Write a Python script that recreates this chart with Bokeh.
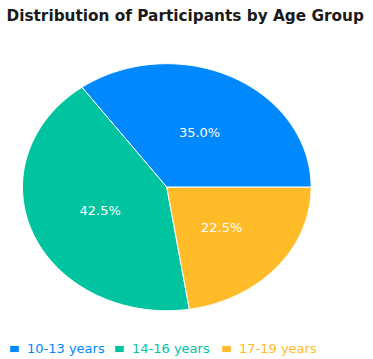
import numpy as np
from bokeh.plotting import figure
from bokeh.models import ColumnDataSource, Range1d, Label, Legend, LegendItem
from bokeh.embed import file_html
from bokeh.resources import INLINE

# ---- data ----
categories = ["10-13 years", "14-16 years", "17-19 years"]
values = [35.0, 42.5, 22.5]
colors = ["#0088FE", "#00C49F", "#FFBB28"]
title_text = "Distribution of Participants by Age Group"

# ---- layout constants (pixels) ----
W, H = 373, 359
CX, CY = 166.3, 186.7      # pie centre inside the figure (from top-left)
RX, RY = 144.3, 123.5      # horizontal / vertical pixel radius

vals = np.array(values, dtype=float)
frac = vals / vals.sum()
ends = np.cumsum(frac) * 2 * np.pi
starts = ends - frac * 2 * np.pi

xs, ys, lx, ly, labels = [], [], [], [], []
for s, e, f in zip(starts, ends, frac):
    t = np.linspace(s, e, 160)
    xs.append(np.concatenate([[0.0], np.cos(t), [0.0]]))
    ys.append(np.concatenate([[0.0], np.sin(t), [0.0]]))
    m = (s + e) / 2
    lx.append(0.5 * np.cos(m))
    ly.append(0.5 * np.sin(m))
    labels.append(f"{f*100:.1f}%")

src = ColumnDataSource(dict(xs=xs, ys=ys, color=colors, name=categories))
lsrc = ColumnDataSource(dict(x=lx, y=ly, text=labels))

p = figure(width=W, height=H, output_backend="svg", toolbar_location=None,
           x_range=Range1d(-CX / RX, (W - CX) / RX),
           y_range=Range1d(-(H - CY) / RY, CY / RY),
           min_border=0, outline_line_color=None)
p.axis.visible = False
p.grid.visible = False
p.background_fill_color = "white"

r = p.patches("xs", "ys", source=src, fill_color="color",
              line_color="white", line_width=1)

p.text("x", "y", text="text", source=lsrc, text_color="white",
       text_font_size="13px", text_align="center", text_baseline="middle",
       text_font={"value": "DejaVu Sans"})

p.add_layout(Label(x=6, y=H - 15.5, x_units="screen", y_units="screen",
                   text=title_text, text_font="DejaVu Sans",
                   text_font_style="bold", text_font_size="15.3px",
                   text_color="#1a1a1a", text_baseline="alphabetic"))

leg_x = [8, 113, 220]
for i, (cat, col) in enumerate(zip(categories, colors)):
    lg = Legend(items=[LegendItem(label=cat, renderers=[r], index=i)],
                location=(leg_x[i], 3), orientation="horizontal",
                padding=0, margin=0, spacing=0,
                glyph_width=12, glyph_height=9, label_height=12,
                label_standoff=7,
                label_text_font="DejaVu Sans", label_text_font_size="13px",
                label_text_color=col, border_line_alpha=0,
                background_fill_alpha=0)
    p.add_layout(lg, "center")

open("out.html", "w").write(file_html(p, INLINE))
